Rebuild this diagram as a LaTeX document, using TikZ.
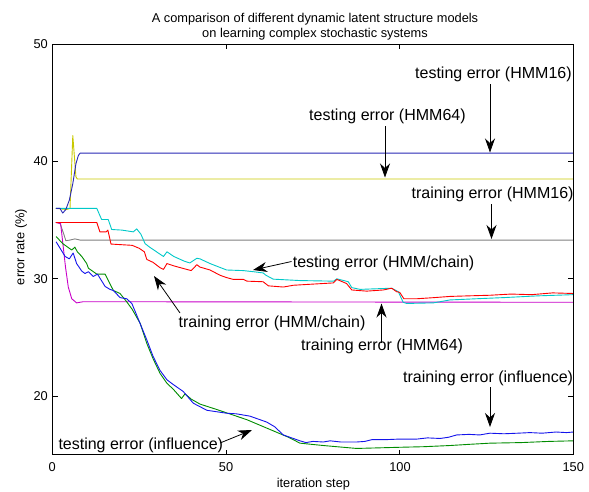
\documentclass[tikz,border=0pt]{standalone}
\usepackage{fontspec}
\setmainfont{Liberation Sans}
\usetikzlibrary{arrows.meta}
\definecolor{cRed}{RGB}{255,0,0}
\definecolor{cGreen}{RGB}{0,140,0}
\definecolor{cBlue}{RGB}{20,20,235}
\definecolor{cNavy}{RGB}{40,40,180}
\definecolor{cMag}{RGB}{200,0,200}
\definecolor{cCyan}{RGB}{0,200,200}
\definecolor{cYel}{RGB}{200,200,0}
\definecolor{cGray}{RGB}{128,128,128}
\tikzset{
  curve/.style={line width=0.9pt, line join=round},
  lab/.style={font=\fontsize{16}{18}\selectfont, inner sep=0pt, anchor=base west},
  small/.style={font=\fontsize{12.8}{15}\selectfont, inner sep=0pt},
  arr/.style={line width=0.8pt, -{Stealth[length=14pt,width=10pt,inset=4.5pt]}},
  frame/.style={line width=1pt},
}
\begin{document}
\begin{tikzpicture}[x=1pt,y=-1pt]
\useasboundingbox (0,0) rectangle (589,491);
% title
\node[small, anchor=base] (t1) at (315,22) {A comparison of different dynamic latent structure models};
\node[small, anchor=base] (t2) at (315,37.6) {on learning complex stochastic systems};
% data
\begin{scope}[shift={(52.3pt,-631pt)}, x=3.474pt, y=11.74pt]
\draw[curve, cGray] (1,34.8) -- (2.2,34.75) -- (3.2,33.9) -- (3.9,33.25) -- (5.1,33.3) -- (6.5,33.4) -- (8,33.3) -- (150,33.3);
\draw[curve, cMag] (1,34.8) -- (2.4,34.7) -- (3.8,31.0) -- (4.6,29.3) -- (5.6,28.3) -- (7,27.95) -- (8.9,28.05) -- (150,28.0);
\draw[curve, cYel] (1,36.0) -- (4.1,35.9) -- (5.1,36.0) -- (5.9,42.2) -- (6.8,38.7) -- (7.2,38.5) -- (150,38.5);
\draw[curve, cCyan] (1,36.0) -- (12.8,36.0) -- (14.2,35.05) -- (16.1,35.05) -- (17.1,34.2) -- (20,34.15) -- (23.3,34.0) -- (24.3,34.25) -- (25.5,33.8) -- (26.7,33.0) -- (28,32.7) -- (30,32.3) -- (32,31.9) -- (33,32.3) -- (35,31.9) -- (38,31.5) -- (39.6,31.35) -- (41.6,31.75) -- (42.5,31.7) -- (45.4,31.3) -- (48,31.0) -- (50.2,30.75) -- (55,30.7) -- (58,30.6) -- (60.7,30.5) -- (61.5,30.3) -- (63.6,29.97) -- (71.3,29.85) -- (81,29.8) -- (81.9,30.0) -- (85.2,29.75) -- (86.2,29.25) -- (88.6,29.1) -- (97.7,29.2) -- (99.6,28.9) -- (101,28.0) -- (102,27.9) -- (109.7,27.95) -- (114.5,28.2) -- (122,28.3) -- (130,28.4) -- (140,28.55) -- (150,28.65);
\draw[curve, cRed] (1,34.8) -- (12.8,34.8) -- (13.7,34.0) -- (15.5,34.0) -- (16,34.15) -- (16.9,32.96) -- (23,32.85) -- (25,32.6) -- (26.5,32.3) -- (27.2,31.65) -- (29,31.4) -- (31,30.95) -- (32,30.8) -- (33,31.3) -- (35,31.1) -- (38.7,30.8) -- (40,30.7) -- (41.6,31.2) -- (42.5,31.0) -- (45.4,30.75) -- (48.3,30.3) -- (50.2,30.1) -- (52.1,29.95) -- (55,29.95) -- (56,29.8) -- (60.7,29.75) -- (62.2,29.4) -- (66.5,29.3) -- (69.4,29.45) -- (75.1,29.55) -- (80.9,29.65) -- (81.9,29.95) -- (84.7,29.6) -- (86.2,29.05) -- (90.5,28.95) -- (95.3,29.05) -- (97.7,29.2) -- (99.1,28.9) -- (100,28.85) -- (101.2,28.3) -- (104.9,28.3) -- (110,28.4) -- (114.5,28.5) -- (120,28.55) -- (126,28.6) -- (132,28.7) -- (138,28.65) -- (144,28.8) -- (150,28.75);
\draw[curve, cNavy] (1,36.0) -- (2.2,36.0) -- (3,35.6) -- (3.9,35.9) -- (4.9,36.7) -- (5.9,38.1) -- (6.8,39.8) -- (7.5,40.5) -- (8,40.7) -- (150,40.7);
\draw[curve, cGreen] (1.1,33.6) -- (3,33.0) -- (5.6,32.45) -- (6.5,32.7) -- (7.2,32.3) -- (8.5,31.9) -- (9.9,31.3) -- (10.4,30.9) -- (12.8,30.4) -- (15.2,30.4) -- (16.2,29.8) -- (17.6,29.0) -- (19.5,28.75) -- (21.4,28.05) -- (23,27.4) -- (25.3,26.2) -- (27.2,24.5) -- (29,23.2) -- (31,21.95) -- (33,21.1) -- (34.8,20.6) -- (37.2,19.8) -- (38.2,20.2) -- (40,19.75) -- (42.5,19.33) -- (47,18.9) -- (52,18.4) -- (56,18.0) -- (60.8,17.4) -- (64,17.0) -- (68,16.5) -- (71.3,16.0) -- (78,15.8) -- (87.6,15.55) -- (100,15.65) -- (107,15.7) -- (114.5,15.8) -- (120,15.9) -- (126,16.0) -- (135,16.05) -- (143,16.15) -- (150,16.2);
\draw[curve, cBlue] (1.1,33.15) -- (3.7,31.9) -- (4.9,31.7) -- (6,32.2) -- (7,31.3) -- (8.5,30.65) -- (9.4,30.45) -- (10.4,30.6) -- (11.8,30.2) -- (13,30.4) -- (15.2,29.35) -- (16.6,29.1) -- (17.6,29.0) -- (19.5,28.4) -- (21.4,28.3) -- (22.9,27.9) -- (24.3,26.9) -- (27.2,24.8) -- (29,23.4) -- (31,22.2) -- (33,21.4) -- (34.8,21.0) -- (37.7,20.4) -- (40.6,19.4) -- (44.5,18.8) -- (50.2,18.55) -- (53,18.5) -- (56.9,18.3) -- (61.7,17.8) -- (64,17.4) -- (66.5,16.7) -- (71.3,16.2) -- (73,16.05) -- (75,16.15) -- (78,16.1) -- (80,16.2) -- (83,16.1) -- (87.6,16.1) -- (90,16.15) -- (92,16.3) -- (96,16.3) -- (100,16.35) -- (105,16.35) -- (108,16.45) -- (111.6,16.4) -- (114,16.5) -- (116.4,16.7) -- (120,16.75) -- (123,16.7) -- (126,16.85) -- (130,16.8) -- (134,16.85) -- (137.5,16.9) -- (141,16.85) -- (145,16.95) -- (148,16.9) -- (150,16.95);
% frame and ticks
\draw[frame] (0,15) rectangle (150,50);
\foreach \v in {50,100} {
  \draw[frame] (\v,15) -- ++(0,0.45);
  \draw[frame] (\v,50) -- ++(0,-0.45);
}
\foreach \v in {20,30,40} {
  \draw[frame] (0,\v) -- ++(1.6,0);
  \draw[frame] (150,\v) -- ++(-1.6,0);
}
\end{scope}
% tick labels
\node[small, anchor=base] (x0) at (52.3,471.7) {0};
\node[small, anchor=base] (x50) at (226.0,471.7) {50};
\node[small, anchor=base] (x100) at (400.0,471.7) {100};
\node[small, anchor=base] (x150) at (573.3,471.7) {150};
\node[small, anchor=east] (y20) at (48,396) {20};
\node[small, anchor=east] (y30) at (48,278.7) {30};
\node[small, anchor=east] (y40) at (48,161) {40};
\node[small, anchor=east] (y50) at (48,44) {50};
\node[small, anchor=base] (xl) at (313.4,487) {iteration step};
\node[small, rotate=90] (yl) at (21,247) {error rate (\%)};
% annotations
\node[lab] (a1) at (415,78) {testing error (HMM16)};
\coordinate (a1s) at (490,84); \coordinate (a1e) at (490,152.5);
\draw[arr] (a1s) -- (a1e);
\node[lab] (a2) at (309,120) {testing error (HMM64)};
\coordinate (a2s) at (385,126); \coordinate (a2e) at (385,177.5);
\draw[arr] (a2s) -- (a2e);
\node[lab] (a3) at (411.5,198.3) {training error (HMM16)};
\coordinate (a3s) at (491.5,204); \coordinate (a3e) at (491.5,239);
\draw[arr] (a3s) -- (a3e);
\node[lab] (a4) at (292.7,267.7) {testing error (HMM/chain)};
\coordinate (a4s) at (291.5,261.5); \coordinate (a4e) at (253,270);
\draw[arr] (a4s) -- (a4e);
\node[lab] (a5) at (178.5,327.3) {training error (HMM/chain)};
\coordinate (a5s) at (180,313); \coordinate (a5e) at (154,276);
\draw[arr] (a5s) -- (a5e);
\node[lab] (a6) at (301,350) {training error (HMM64)};
\coordinate (a6s) at (381.5,343); \coordinate (a6e) at (381.5,303.5);
\draw[arr] (a6s) -- (a6e);
\node[lab] (a7) at (403,382) {training error (influence)};
\coordinate (a7s) at (490,387); \coordinate (a7e) at (490,427);
\draw[arr] (a7s) -- (a7e);
\node[lab] (a8) at (58.3,449.3) {testing error (influence)};
\coordinate (a8s) at (220,443); \coordinate (a8e) at (252,430);
\draw[arr] (a8s) -- (a8e);
\end{tikzpicture}
\end{document}
